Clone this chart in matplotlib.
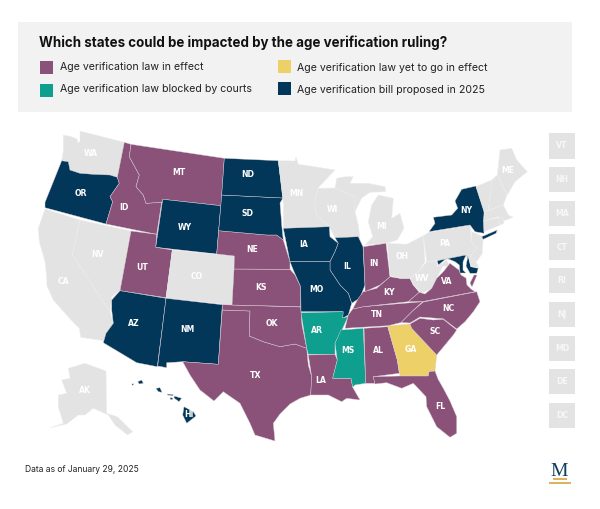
import matplotlib
matplotlib.use('Agg')
import matplotlib.pyplot as plt
from matplotlib.patches import Polygon, Rectangle

# Which group each state falls in
law_in_effect = ['ID', 'MT', 'UT', 'NE', 'KS', 'OK', 'TX', 'LA', 'AL', 'FL', 'SC', 'NC', 'TN', 'KY', 'IN', 'VA']
law_blocked = ['AR', 'MS']
law_pending = ['GA']
bill_proposed = ['OR', 'ND', 'SD', 'WY', 'AZ', 'NM', 'HI', 'IA', 'MO', 'IL', 'NY', 'MD']
no_action = ['WA', 'CA', 'NV', 'CO', 'AK', 'MN', 'WI', 'MI', 'OH', 'PA', 'WV', 'NJ', 'DE', 'VT', 'NH', 'ME', 'MA', 'CT', 'RI']
small_states = ['VT', 'NH', 'MA', 'CT', 'RI', 'NJ', 'MD', 'DE', 'DC']

legend_left = ['Age verification law in effect', 'Age verification law blocked by courts']
legend_right = ['Age verification law yet to go in effect', 'Age verification bill proposed in 2025']
title = 'Which states could be impacted by the age verification ruling?'
footnote = 'Data as of January 29, 2025'

# State outlines (image pixels), some states have several parts
outlines = {
    'WA': [[(63.3,135),(71.7,136.7),(77,139),(78,143),(80,141),(80,131),(124.3,142.3),(117.3,177.3),(110,175),(93.3,174.3),(80,173.3),(70,170),(68.3,161.7),(61.7,160),(63.3,151.7)]],
    'OR': [[(61.7,160.7),(68.3,161.7),(70,170),(80,173.3),(93.3,174.3),(110,175),(117.3,177.3),(119.3,183.3),(110,196.7),(112.7,201.7),(106,224),(45,207.7),(45,202.3),(53.3,181.7)]],
    'CA': [[(45,209),(80,220),(72.3,255),(110,311.7),(113.3,323.3),(106,333.3),(104,340.7),(80.7,337.3),(79.3,328.3),(72,321),(65,313.3),(53.3,300),(47,286),(46.7,278.3),(45,261.7),(39.3,241.7),(38.3,228.3)]],
    'NV': [[(80,220),(131,231),(120,290.7),(111.7,296.7),(110,311.7),(72.3,255)]],
    'ID': [[(124.3,142.3),(131,144.3),(129.3,156.7),(139.3,175),(136,186.7),(143.3,195),(146,203.3),(161.7,202.3),(156.7,234.3),(106,224),(112.7,201.7),(110,196.7),(119.3,183.3),(117.3,177.3)]],
    'MT': [[(131,144.3),(224.3,158.3),(221,205.7),(162.7,199.3),(161.7,202.3),(146,203.3),(143.3,195),(136,186.7),(139.3,175),(129.3,156.7)]],
    'WY': [[(162.7,199.3),(220.7,205.7),(216.7,254),(155.7,247.3)]],
    'UT': [[(131,231),(156.7,234.3),(155.7,247.3),(172.3,250),(166,297.7),(120,290.7)]],
    'CO': [[(172.3,250),(234.3,256),(232,305),(166,298.3)]],
    'AZ': [[(120,290.7),(166,298.3),(157.3,366.7),(136.7,362.7),(103.3,342.7),(106,333.3),(113.3,323.3),(111.7,310),(111.7,300)]],
    'NM': [[(166,298.3),(222.3,304.7),(218.3,364.3),(182.7,361.7),(166.7,362.7),(166.7,367.7),(157.7,366)]],
    'TX': [[(222.3,310),(250,311),(249.3,336),(263.3,341.7),(280,346.7),(295,344),(306.7,348.3),(308.3,365),(311.7,376.7),(310.7,395),(300,398.3),(290,404),(280,414),(273.3,423.3),(275,441),(255,435),(250,423.3),(240,403.3),(223.3,391.7),(214,401),(200,390),(190,375),(182.7,361.7),(218.3,364.3)]],
    'OK': [[(222.3,304.7),(300.7,307),(302,325),(306.7,348.3),(295,344),(280,346.7),(263.3,341.7),(249.3,336),(250,311),(222.3,310)]],
    'KS': [[(234,269),(290,269.3),(295,275),(300.7,286.7),(300.7,306.7),(232,305)]],
    'NE': [[(218.7,230.7),(266.7,235),(276.7,235),(283.3,240),(290,261.7),(290,269.3),(234,269),(234.3,256),(216.7,254)]],
    'SD': [[(221.7,195),(283,198),(280,203),(282,228),(283.3,240),(276.7,235),(266.7,235),(218.7,230.7)]],
    'ND': [[(224.3,158.3),(278.3,160.7),(283,198),(221.7,195)]],
    'MN': [[(278.3,160.7),(295,161),(296,156.7),(298.3,164.3),(315,166.7),(335,170),(318.3,187.7),(314.3,203.3),(316.7,215),(329.3,226.7),(283.3,228.3),(283.3,203.3),(280,175)]],
    'WI': [[(318.3,188.3),(335,188),(355,196.7),(355,211.7),(358.3,225),(360,237.7),(335,237.7),(329.3,226.7),(316.7,215),(314.3,203.3)]],
    'MI': [[(365,245),(372.7,236.7),(368.3,221.7),(371.7,205),(378.3,195),(393.3,198.3),(391.7,218.3),(400,213.3),(404,228.3),(397.3,240),(386.7,243.3)],
           [(335,188),(336.7,178.3),(345,176.7),(353.3,176.7),(350,183.3),(368.3,183.3),(385,186.7),(386,191.7),(370,192.3),(361.7,198),(355,211.7),(355,196.7)]],
    'IA': [[(283.3,228.3),(329.3,226.7),(330,236.7),(338.3,243.3),(335,251.7),(330,261.7),(290,261.7),(286.7,245)]],
    'IL': [[(335,237.7),(358.3,236.7),(363,246.7),(365,285),(360,298),(351.7,303.3),(348.3,293.3),(340,285),(330,270),(330,261.7),(335,251.7),(338.3,243.3)]],
    'MO': [[(290,261.7),(330,261.7),(330,270),(340,285),(348.3,293.3),(351.7,303.3),(348.3,315),(342.7,318.3),(342.7,311.7),(301,311.7),(300.7,286.7),(293.3,270)]],
    'AR': [[(301,312.7),(343.3,311.7),(342.7,318),(348,316.7),(342,330),(335,343.3),(335,354.3),(308.3,354.3),(306.7,348.3)]],
    'LA': [[(308.3,355),(335,354.3),(337.3,360),(332.7,378.3),(351,378.3),(352.7,387.3),(360,400),(346.7,398.3),(341.7,401.7),(328.3,395),(310.7,395),(311.7,376.7)]],
    'MS': [[(341,330),(363.3,328.3),(365.7,383.3),(355,385),(352.7,387.3),(351,378.3),(332.7,378.3),(337.3,360),(335,343.3)]],
    'AL': [[(364,328.3),(387.7,326.7),(397.3,360),(399.3,373.3),(373.3,376.7),(375,383.3),(368.3,383.3),(365.7,383.3)]],
    'GA': [[(387.7,326),(410,324),(411.7,328.3),(436.7,355),(435,371),(428.3,371.7),(428.3,376),(400,376),(397.3,360)]],
    'FL': [[(373.3,376.7),(399.3,376),(428.3,376),(429,371.7),(435,371),(438,379),(443.3,388.3),(450,401),(456.7,416.7),(456.7,433.3),(450,437.3),(436.7,426.7),(426.7,406.7),(426,396.7),(413.3,383.3),(401.7,388.3),(386.7,382.7),(375,384)]],
    'SC': [[(410,324),(420,318.3),(433.3,320),(443.3,319.3),(456.7,330),(453.3,335),(436.7,355),(411.7,328.3)]],
    'NC': [[(423.3,302),(476.7,291.7),(480,301.7),(473.3,311.7),(465,321.7),(456.7,329),(443.3,318.8),(420,317),(410,323),(401,322.5),(411.7,311.7)]],
    'TN': [[(352.7,309),(363.3,306.7),(422.7,301.7),(411.7,311.7),(401,322.5),(388.3,325.7),(345,328.3),(348.3,315)]],
    'KY': [[(352.7,309),(358.3,298.3),(363.3,291.7),(376.7,288.3),(390,276.7),(400,278.3),(410,278.3),(413.3,285),(419.3,292.3),(408.3,301.7),(363.3,306.7)]],
    'IN': [[(363.3,246.7),(386,243.3),(390,276.7),(380,285),(365,291.7),(365,285)]],
    'OH': [[(387.3,243.3),(406.7,244.3),(423.3,235.7),(425,261.7),(418.3,271.7),(410,278.3),(400,278.3),(390,275.7)]],
    'PA': [[(423.3,235.7),(429,232.3),(470,225.5),(470.7,231.7),(471.7,241.7),(476.7,248.3),(470,256.7),(426.7,261.7)]],
    'WV': [[(426.7,261.7),(436.7,260.7),(437.3,266.7),(446.7,260),(450,266.7),(443,266),(436.7,278.3),(431.7,288.3),(421.7,293.3),(413.3,285),(410,278.3),(418.3,271.7)]],
    'VA': [[(408.3,301.7),(419.3,292.3),(425,294),(431.7,288.3),(436.7,278.3),(443.3,271.7),(450,263.3),(459,270),(461,275),(466,278),(467,285),(471,289),(475,291.7),(423,301.5)],
           [(474,275),(477,275),(472,287),(470,283)]],
    'MD': [[(437.3,260.7),(466,255),(463,262),(463,270),(466,273),(460,273),(459.3,265),(455,261.7),(446.7,258.3),(438.3,265)],
           [(468,255.5),(470.7,266.7),(478.3,268.3),(476.7,273.3),(470,273.3),(466,266)]],
    'DE': [[(468,254.5),(473,255),(478.8,267.8),(471,266.5)]],
    'NJ': [[(471.7,231.7),(483.3,236.7),(482.3,253.3),(476.7,261.7),(470,256.7),(476.7,248.3),(471.7,241.7)]],
    'NY': [[(429,231.7),(435,223.3),(433.3,217.3),(451.7,215),(457.7,208.3),(455,201),(461.7,189.3),(476,186),(484,210),(484,233.3),(475,231.7),(470,225)],
           [(481.7,236.7),(497.3,230),(496,233.3),(483.3,239.3)]],
    'VT': [[(476,186.7),(491.7,180),(488.3,210),(484,211.7)]],
    'NH': [[(491.7,180),(497.3,175),(507,195),(503.3,205),(488.3,210)]],
    'ME': [[(497.3,175),(500,150),(511.7,148.3),(516.7,160),(527.3,171.7),(515,181.7),(507.3,195)]],
    'MA': [[(484.3,211.7),(503.3,205),(508.3,215),(513.3,217.3),(505,220.5),(498.3,216.7),(483.5,221)]],
    'CT': [[(483.5,221),(498.3,217.7),(500,225),(484,231.7)]],
    'RI': [[(498.3,216.7),(503.3,218.3),(504,223.3),(500,225)]],
    'HI': [[(184,406.7),(193.3,411.7),(196,416),(186.7,423.3),(182.7,415)],
           [(174.3,396),(181.7,398.3),(179,401.7),(174,398)],
           [(167.3,394),(173.3,394.7),(173,395.7),(167.5,395)],
           [(170,397.7),(172.7,398),(172.5,399.5),(170.5,399.5)],
           [(156,388.3),(160,387.7),(162,392.3),(158.3,391.7)],
           [(137.7,381.7),(141.7,380),(143.3,383.3),(139.3,384)],
           [(132,384),(133.3,383.6),(133.3,385),(132,385.2)]],
    'AK': [[(68.3,368.3),(85,363.3),(106,371),(106.7,413.3),(117.3,416.7),(132.7,431.7),(127.7,435),(115,425),(108.3,415),(93.3,408.3),(85,415),(78.3,415),(66.7,424),(50,427.7),(63.3,423.3),(58.3,406.7),(58.3,395),(66.7,393.3),(61.7,380),(70,378.3)]],
}

# Where the two letter codes sit
label_spots = {
    'WA': (91,153.3), 'MT': (179,172.3), 'ND': (247.3,174.3), 'OR': (80.7,193.7), 'ID': (124,207.3),
    'SD': (247,213.3), 'WY': (184.7,227.3), 'NE': (252,250), 'NV': (97.7,254.7), 'UT': (141.7,267.7),
    'CO': (196.3,276.3), 'KS': (261.3,287.3), 'CA': (63.3,282), 'AZ': (133.7,323.7), 'NM': (187.7,329.3),
    'OK': (272,323.7), 'TX': (255.7,375.7), 'AK': (85.3,390.3), 'HI': (188.7,414.3), 'MN': (296,193.7),
    'WI': (332.7,209), 'MI': (381.3,226.3), 'IA': (303.3,244.3), 'IL': (346.7,266.7), 'IN': (374.3,264),
    'OH': (402.3,256.7), 'PA': (444.7,243.3), 'NY': (466,210.3), 'ME': (507.7,170.7), 'WV': (422.3,278.7),
    'VA': (446.7,281.7), 'KY': (389,292.3), 'MO': (316,290), 'NC': (448,308.3), 'TN': (377,314.3),
    'AR': (317,330.7), 'SC': (434.7,331.7), 'MS': (348,350.3), 'AL': (378,350.3), 'GA': (410.7,349.3),
    'LA': (321,380.3), 'FL': (440.3,406.3),
}

PURPLE = '#8b5279'
TEAL = '#0f9f8f'
YELLOW = '#eed069'
NAVY = '#02375a'
GREY = '#e3e3e3'
state_colors = {}
for group, color in [(law_in_effect, PURPLE), (law_blocked, TEAL), (law_pending, YELLOW),
                     (bill_proposed, NAVY), (no_action, GREY)]:
    for st in group:
        state_colors[st] = color

plt.rcParams['font.family'] = ['Inter', 'DejaVu Sans']

fig = plt.figure(figsize=(6, 5.09), dpi=100)
ax = fig.add_axes([0, 0, 1, 1])
ax.set_xlim(0, 600)
ax.set_ylim(509, 0)
ax.axis('off')

# Header panel
ax.add_patch(Rectangle((18.3, 21.7), 554, 90.3, color='#f2f2f2', lw=0))
ax.text(39, 42.5, title, fontsize=9.63, fontweight='bold', color='#111111', va='center')

ax.add_patch(Rectangle((40, 61), 13.3, 13, color=PURPLE, lw=0))
ax.add_patch(Rectangle((40, 84), 13.3, 12.7, color=TEAL, lw=0))
ax.add_patch(Rectangle((278, 60), 13, 13.3, color=YELLOW, lw=0))
ax.add_patch(Rectangle((278, 82), 13, 12.7, color=NAVY, lw=0))
ax.text(60, 67.3, legend_left[0], fontsize=7.6, color='#222222', va='center')
ax.text(60, 89.3, legend_left[1], fontsize=7.6, color='#222222', va='center')
ax.text(296.7, 68.3, legend_right[0], fontsize=7.6, color='#222222', va='center')
ax.text(296.7, 90, legend_right[1], fontsize=7.6, color='#222222', va='center')

# Map
for st, parts in outlines.items():
    edge = '#eeeeee' if state_colors[st] == GREY else '#d9d0d6'
    for part in parts:
        ax.add_patch(Polygon(part, closed=True, facecolor=state_colors[st], edgecolor=edge, lw=0.3, joinstyle='round'))

for st, (x, y) in label_spots.items():
    ax.text(x, y, st, fontsize=5.6, family='DejaVu Sans', fontweight='bold', color='white', ha='center', va='center')

# Boxes for the small states, down the right side
for i, st in enumerate(small_states):
    top = 133.3 + i * 33.7
    ax.add_patch(Rectangle((549.3, top), 25.6, 25.2, color=GREY, lw=0))
    ax.text(562.1, top + 12.6, st, fontsize=5.6, family='DejaVu Sans', fontweight='bold', color='#f7f7f7', ha='center', va='center')

ax.text(25, 469, footnote, fontsize=6.1, color='#222222', va='center')

# Logo
ax.text(559.5, 471.3, 'M', fontsize=14, family='Liberation Serif', color='#0f3d5c', ha='center', va='center')
ax.add_patch(Rectangle((553, 478.4), 14, 1.6, color='#dcb15f', lw=0))
ax.add_patch(Rectangle((549, 482.2), 22, 1.6, color='#dcb15f', lw=0))

fig.savefig('out.png', dpi=100)
